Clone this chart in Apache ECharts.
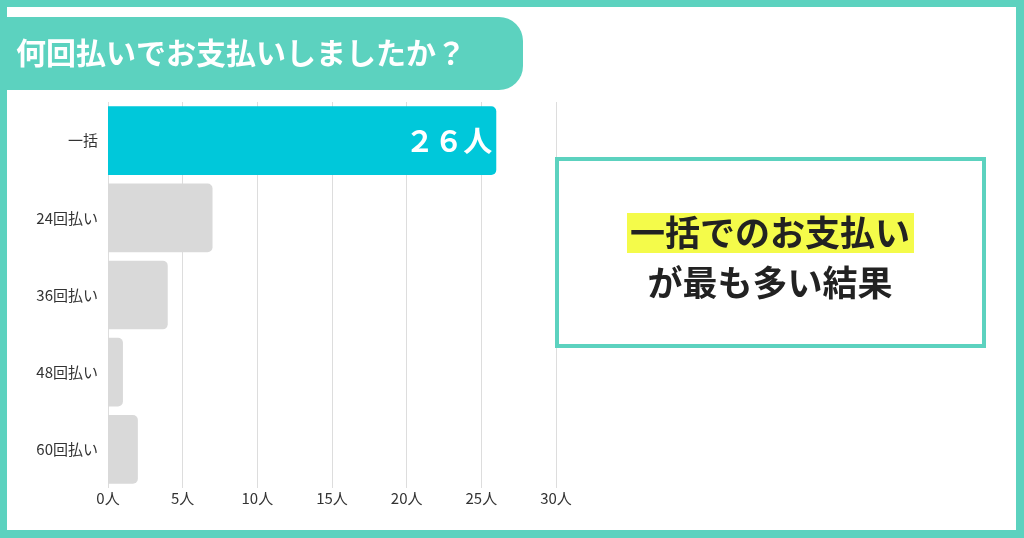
<!DOCTYPE html>
<html>
<head>
<meta charset="utf-8">
<script src="https://cdn.jsdelivr.net/npm/echarts@6/dist/echarts.min.js"></script>
<style>
  html, body { margin: 0; padding: 0; background: #fff; }
  #main { width: 1024px; height: 538px; }
</style>
</head>
<body>
<div id="main"></div>
<script>
// 回答データ
var categories = ['一括', '24回払い', '36回払い', '48回払い', '60回払い'];
var counts = [26, 7, 4, 1, 2];
var highlightIndex = 0;
var titleText = '何回払いでお支払いしましたか？';
var noteLine1 = '一括でのお支払い';
var noteLine2 = 'が最も多い結果';

var FONT = '"Noto Sans CJK JP", "Noto Sans", sans-serif';
var TEAL = '#5CD2BF';

var chart = echarts.init(document.getElementById('main'));

var barData = counts.map(function (v, i) {
  if (i === highlightIndex) {
    return {
      value: v,
      itemStyle: { color: '#00C8DA' },
      label: {
        show: true,
        position: 'insideRight',
        distance: 4,
        formatter: function (p) {
          // 全角数字で表示
          return String(p.value).replace(/[0-9]/g, function (d) {
            return String.fromCharCode(d.charCodeAt(0) + 0xFEE0);
          }) + '人';
        },
        color: '#fff',
        fontSize: 29,
        fontWeight: 'bold',
        fontFamily: FONT
      }
    };
  }
  return { value: v };
});

var option = {
  animation: false,
  backgroundColor: '#fff',
  grid: { left: 108, right: 468, top: 102, bottom: 50, containLabel: false },
  xAxis: {
    type: 'value',
    min: 0,
    max: 30,
    interval: 5,
    axisLine: { show: false },
    axisTick: { show: false },
    splitLine: { lineStyle: { color: '#dddddd', width: 1 } },
    axisLabel: {
      formatter: '{value}人',
      color: '#333',
      fontSize: 15,
      fontFamily: FONT,
      margin: 3
    }
  },
  yAxis: {
    type: 'category',
    data: categories,
    inverse: true,
    axisLine: { show: false },
    axisTick: { show: false },
    axisLabel: { color: '#333', fontSize: 15, fontFamily: FONT, margin: 10 }
  },
  series: [{
    type: 'bar',
    data: barData,
    barCategoryGap: '11%',
    itemStyle: { color: '#D9D9D9', borderRadius: [0, 5, 5, 0] }
  }],
  graphic: [
    // 外枠
    { type: 'rect', z: 100, silent: true, shape: { x: 0, y: 0, width: 1024, height: 7 }, style: { fill: TEAL } },
    { type: 'rect', z: 100, silent: true, shape: { x: 0, y: 530, width: 1024, height: 8 }, style: { fill: TEAL } },
    { type: 'rect', z: 100, silent: true, shape: { x: 0, y: 0, width: 7, height: 538 }, style: { fill: TEAL } },
    { type: 'rect', z: 100, silent: true, shape: { x: 1016, y: 0, width: 8, height: 538 }, style: { fill: TEAL } },
    // タイトル帯
    { type: 'rect', z: 100,
      shape: { x: 0, y: 17, width: 523, height: 73, r: [0, 24, 24, 0] },
      style: { fill: TEAL } },
    { type: 'text', z: 101, x: 16, y: 53,
      style: { text: titleText, fill: '#fff', fontSize: 30, fontWeight: 'bold', fontFamily: FONT,
               textVerticalAlign: 'middle' } },
    // まとめボックス
    { type: 'rect', z: 100,
      shape: { x: 557, y: 159, width: 427, height: 187 },
      style: { fill: '#fff', stroke: TEAL, lineWidth: 4 } },
    { type: 'rect', z: 101,
      shape: { x: 627, y: 213, width: 287, height: 40 },
      style: { fill: '#F4FB4A' } },
    { type: 'text', z: 102, x: 770, y: 233,
      style: { text: noteLine1, fill: '#222', fontSize: 35, fontWeight: 'bold', fontFamily: FONT,
               textAlign: 'center', textVerticalAlign: 'middle' } },
    { type: 'text', z: 102, x: 770, y: 283,
      style: { text: noteLine2, fill: '#222', fontSize: 35, fontWeight: 'bold', fontFamily: FONT,
               textAlign: 'center', textVerticalAlign: 'middle' } }
  ]
};

chart.setOption(option);
</script>
</body>
</html>
